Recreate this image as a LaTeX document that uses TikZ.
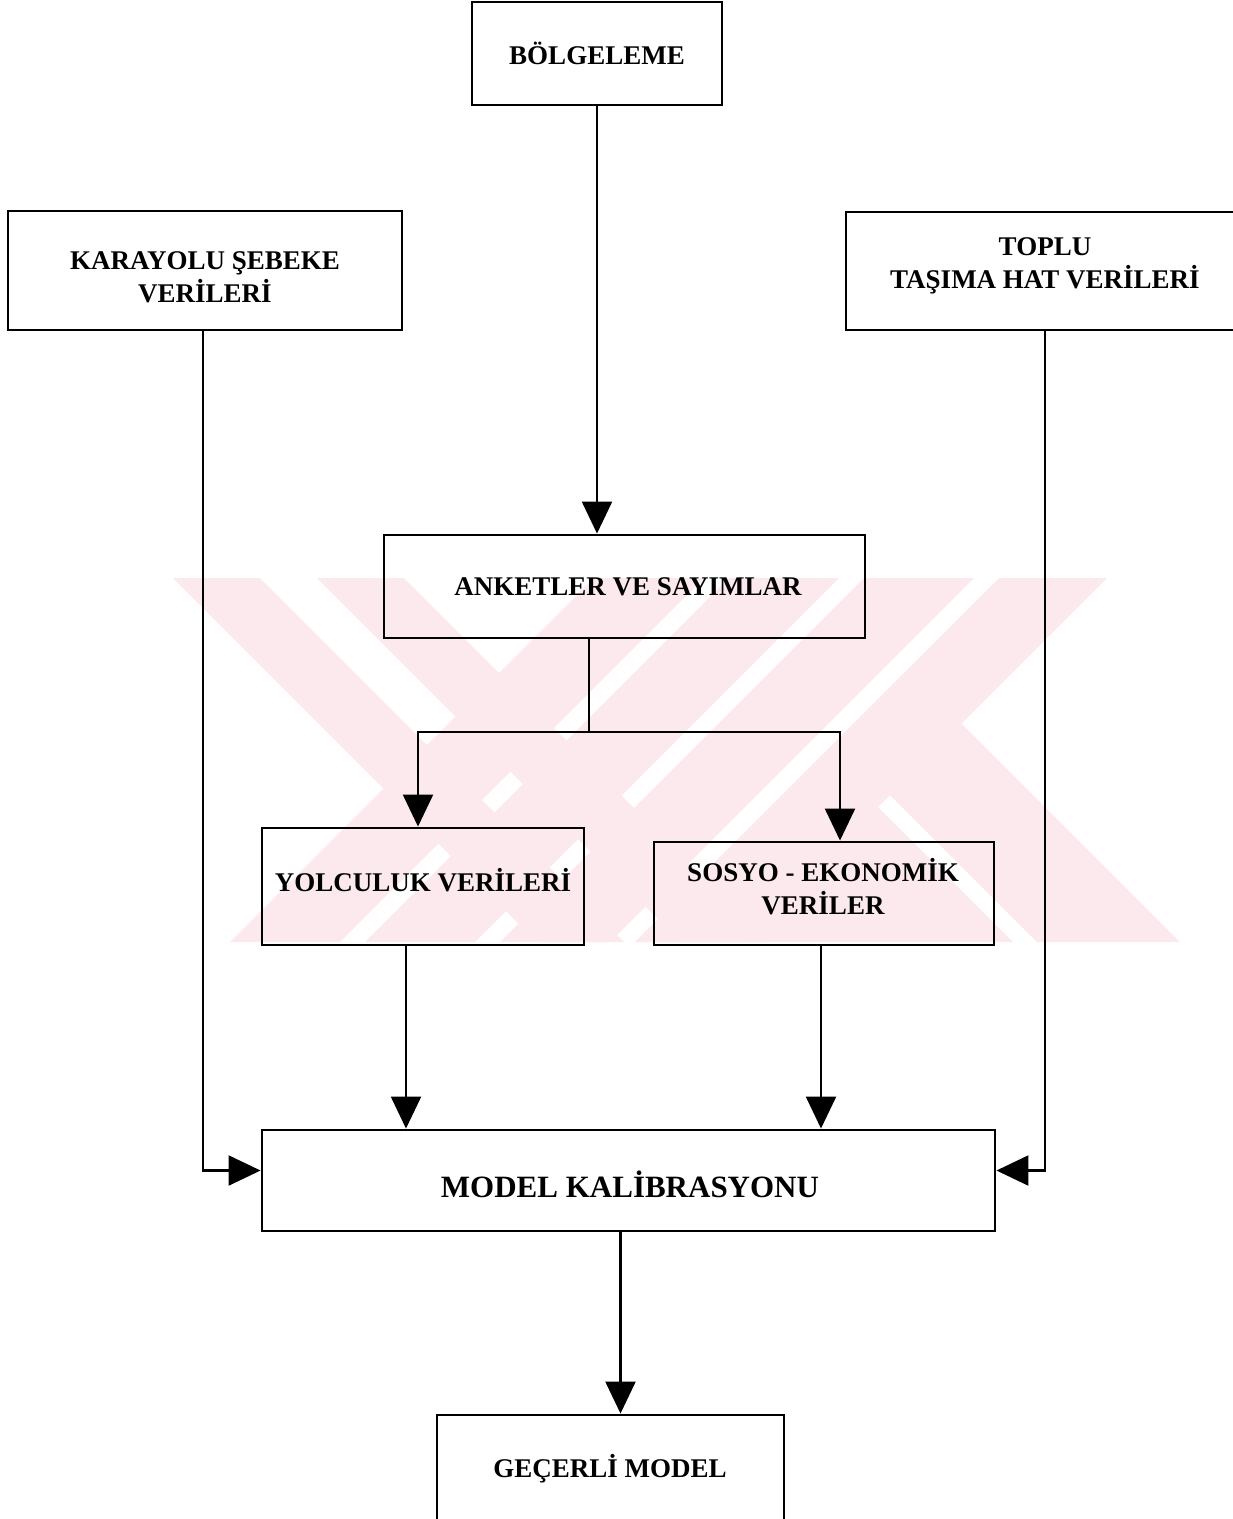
\documentclass[tikz,border=0pt]{standalone}
\usepackage{fontspec}
\setmainfont{Liberation Serif}
\usetikzlibrary{arrows.meta}
\definecolor{wmpink}{RGB}{252,233,237}
\begin{document}
\begin{tikzpicture}[x=1pt,y=-1pt]
\tikzset{
  blk/.style={draw=black, line width=2.9pt, inner sep=0pt},
  lbl/.style={inner sep=0pt, align=center,
              font=\fontsize{27}{33}\selectfont\bfseries},
  link/.style={line width=2.3pt, line cap=rect},
  arr/.style={link, -{Triangle[length=32pt,width=30pt]}},
  wm/.style={fill=wmpink, draw=none}
}
\useasboundingbox (0,0) rectangle (1233,1519);
\clip (0,0) rectangle (1233,1519);

% faint striped emblem behind the chart
\fill[wm] (173,578) -- (260,578) -- (624,942) -- (537,942) -- cycle;
\fill[wm] (317,578) -- (404,578) -- (768,942) -- (681,942) -- cycle;
\fill[wm] (594,578) -- (704,578) -- (340,942) -- (230,942) -- cycle;
\fill[wm] (729,578) -- (839,578) -- (475,942) -- (365,942) -- cycle;
\fill[wm] (864,578) -- (974,578) -- (610,942) -- (500,942) -- cycle;
\fill[wm] (999,578) -- (1107,578) -- (743,942) -- (635,942) -- cycle;
\fill[wm] (907.5,669.5) -- (1180,942) -- (1037,942) -- (836,741) -- cycle;
\fill[wm] (824,753) -- (1013,942) -- (635,942) -- cycle;

% boxes
\node[blk, minimum width=250pt, minimum height=103pt] (bolge) at (597,53.5) {};
\node[blk, minimum width=394pt, minimum height=119pt] (kara) at (205,270.5) {};
\node[blk, minimum width=398pt, minimum height=118pt] (toplu) at (1045,271) {};
\node[blk, minimum width=481pt, minimum height=103pt] (anket) at (624.5,586.5) {};
\node[blk, minimum width=322pt, minimum height=117pt] (yolcu) at (423,886.5) {};
\node[blk, minimum width=340pt, minimum height=103pt] (sosyo) at (824,893.5) {};
\node[blk, minimum width=733pt, minimum height=101pt] (model) at (628.5,1180.5) {};
\node[blk, minimum width=347pt, minimum height=108pt] (gecerli) at (610.5,1469) {};

% box texts
\node[lbl] (bolge-t) at (597,53) {BÖLGELEME};
\node[lbl] (kara-t) at (205,277) {KARAYOLU ŞEBEKE\\VERİLERİ};
\node[lbl] (toplu-t) at (1045,266) {TOPLU\\TAŞIMA HAT VERİLERİ};
\node[lbl] (anket-t) at (628,587) {ANKETLER VE SAYIMLAR};
\node[lbl] (yolcu-t) at (423,880) {YOLCULUK VERİLERİ};
\node[lbl] (sosyo-t) at (823,887) {SOSYO - EKONOMİK\\VERİLER};
\node[lbl, font=\fontsize{31}{36}\selectfont\bfseries] (model-t) at (630,1184) {MODEL KALİBRASYONU};
\node[lbl] (gecerli-t) at (610,1469) {GEÇERLİ MODEL};

% connectors
\coordinate (j) at (589,732);
\coordinate (jl) at (418,732);
\coordinate (jr) at (840,732);
\draw[arr] (bolge.south) -- (bolge.south |- anket.north);
\draw[link] (anket.south -| j) -- (j);
\draw[link] (jl) -- (jr);
\draw[arr] (jl) -- (jl |- yolcu.north);
\draw[arr] (jr) -- (jr |- sosyo.north);
\draw[arr] ([xshift=-17pt]yolcu.south) -- ([xshift=-17pt]yolcu.south |- model.north);
\draw[arr] ([xshift=-3pt]sosyo.south) -- ([xshift=-3pt]sosyo.south |- model.north);
\draw[arr] ([xshift=-2pt]kara.south) |- ([yshift=10pt]model.west);
\draw[arr] (toplu.south) |- ([yshift=10pt]model.east);
\draw[arr] ([xshift=-8pt]model.south) -- ([xshift=-8pt]model.south |- gecerli.north);
\end{tikzpicture}
\end{document}
